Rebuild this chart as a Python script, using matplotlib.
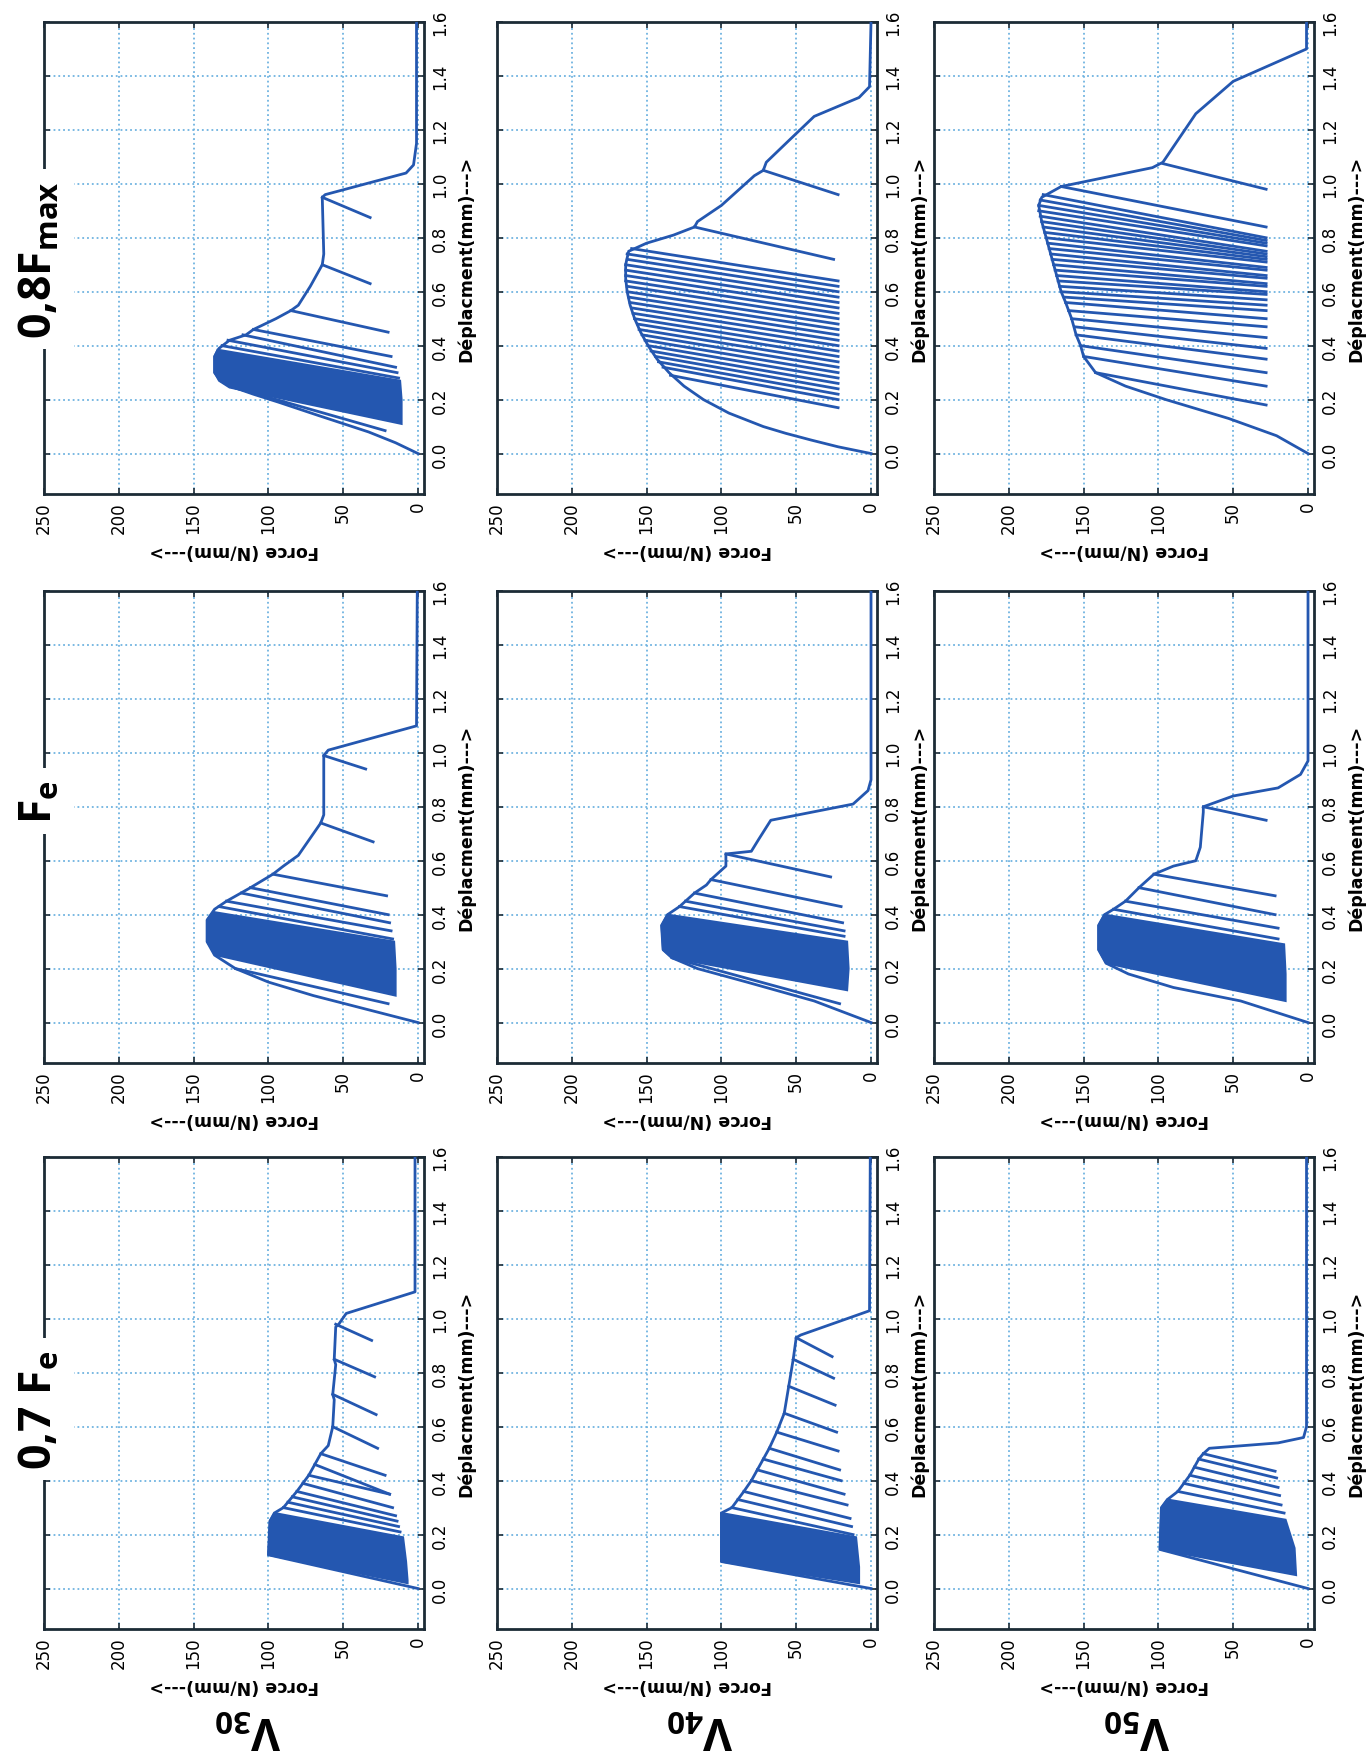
import numpy as np
import matplotlib.pyplot as plt

plt.rcParams['mathtext.fontset'] = 'custom'
plt.rcParams['mathtext.rm'] = 'Open Sans'
plt.rcParams['mathtext.bf'] = 'Open Sans:bold'

# values: displacement (mm) and force (N/mm)
# env = outer path, blk = saturated block of cycles, pk/tp = unloading teeth peak -> tip

# ---- row 0,8 Fmax ----
fmax_v30_env_d = [0, 0.04, 0.08, 0.14, 0.19, 0.22, 0.245, 0.27, 0.30, 0.36, 0.39, 0.42, 0.44, 0.46, 0.50, 0.53, 0.55, 0.62, 0.70, 0.74, 0.95, 0.96, 1.04, 1.07, 1.15, 1.60]
fmax_v30_env_f = [0, 15, 33, 66, 93, 110, 123, 132, 136, 136, 133, 126, 115, 110, 95, 85, 80, 72, 64, 63, 64, 62, 8, 3, 1, 1]
fmax_v30_blk_d = [0.11, 0.245, 0.27, 0.30, 0.36, 0.385, 0.27, 0.20]
fmax_v30_blk_f = [11, 126, 133, 136, 136, 134, 12, 11]
fmax_v30_pk_d = [0.245, 0.40, 0.42, 0.44, 0.46, 0.53, 0.70, 0.95]
fmax_v30_pk_f = [123, 131, 127, 117, 110, 85, 64, 64]
fmax_v30_tp_d = [0.085, 0.28, 0.30, 0.32, 0.36, 0.45, 0.63, 0.875]
fmax_v30_tp_f = [22, 13, 14, 15, 18, 20, 32, 32]

fmax_v40_env_d = [0, 0.025, 0.05, 0.075, 0.10, 0.15, 0.20, 0.25, 0.30, 0.35, 0.40, 0.45, 0.50, 0.55, 0.60, 0.65, 0.70, 0.75, 0.78, 0.81, 0.84, 0.86, 0.92, 0.98, 1.03, 1.05, 1.08, 1.16, 1.25, 1.32, 1.36, 1.60]
fmax_v40_env_f = [0, 22, 40, 57, 72, 95, 112, 125, 135, 143, 149, 154, 158, 161, 163, 164, 164, 162, 150, 132, 118, 116, 100, 88, 78, 72, 70, 55, 38, 8, 1, 0]
fmax_v40_blk_d = []
fmax_v40_blk_f = []
fmax_v40_pk_d = [0.29, 0.32, 0.34, 0.36, 0.38, 0.40, 0.42, 0.44, 0.46, 0.48, 0.50, 0.52, 0.54, 0.56, 0.58, 0.60, 0.62, 0.64, 0.66, 0.68, 0.70, 0.72, 0.74, 0.76, 0.84, 1.05]
fmax_v40_pk_f = [134, 139, 142, 144, 147, 149, 151, 153, 155, 156, 158, 159, 160, 161, 162, 163, 163, 164, 164, 164, 164, 163, 163, 160, 118, 72]
fmax_v40_tp_d = [0.17, 0.20, 0.22, 0.24, 0.26, 0.28, 0.30, 0.32, 0.34, 0.36, 0.38, 0.40, 0.42, 0.44, 0.46, 0.48, 0.50, 0.52, 0.54, 0.56, 0.58, 0.60, 0.62, 0.64, 0.72, 0.96]
fmax_v40_tp_f = [22, 22, 22, 22, 22, 22, 22, 22, 22, 22, 22, 22, 22, 22, 22, 22, 22, 22, 22, 22, 22, 22, 22, 22, 25, 22]

fmax_v50_env_d = [0, 0.066, 0.13, 0.20, 0.25, 0.30, 0.36, 0.40, 0.44, 0.50, 0.56, 0.60, 0.66, 0.70, 0.76, 0.80, 0.86, 0.92, 0.95, 0.99, 1.06, 1.08, 1.26, 1.38, 1.50, 1.60]
fmax_v50_env_f = [0, 21, 53, 95, 122, 142, 150, 152, 155, 158, 162, 165, 168, 170, 173, 175, 178, 180, 178, 165, 104, 97, 75, 50, 1, 1]
fmax_v50_blk_d = []
fmax_v50_blk_f = []
fmax_v50_pk_d = [0.30, 0.36, 0.40, 0.44, 0.47, 0.50, 0.53, 0.56, 0.58, 0.60, 0.62, 0.64, 0.66, 0.68, 0.70, 0.72, 0.74, 0.76, 0.78, 0.80, 0.82, 0.84, 0.86, 0.88, 0.90, 0.92, 0.94, 0.96, 0.99, 1.075]
fmax_v50_pk_f = [142, 150, 152, 155, 156, 158, 160, 162, 163, 165, 166, 167, 168, 169, 170, 171, 172, 173, 174, 175, 176, 177, 178, 179, 180, 180, 179, 177, 165, 97]
fmax_v50_tp_d = [0.18, 0.25, 0.30, 0.35, 0.39, 0.43, 0.47, 0.50, 0.53, 0.55, 0.57, 0.59, 0.60, 0.62, 0.63, 0.65, 0.66, 0.68, 0.69, 0.71, 0.72, 0.73, 0.74, 0.75, 0.77, 0.78, 0.79, 0.80, 0.84, 0.98]
fmax_v50_tp_f = [28, 28, 28, 28, 28, 28, 28, 28, 28, 28, 28, 28, 28, 28, 28, 28, 28, 28, 28, 28, 28, 28, 28, 28, 28, 28, 28, 28, 28, 28]

# ---- row Fe ----
fe_v30_env_d = [0, 0.05, 0.10, 0.15, 0.20, 0.25, 0.30, 0.38, 0.42, 0.45, 0.50, 0.55, 0.58, 0.62, 0.70, 0.74, 0.77, 0.99, 1.01, 1.10, 1.60]
fe_v30_env_f = [0, 35, 70, 100, 122, 136, 141, 141, 136, 128, 112, 97, 90, 80, 70, 65, 63, 63, 60, 1, 0.5]
fe_v30_blk_d = [0.10, 0.25, 0.30, 0.38, 0.41, 0.30, 0.20]
fe_v30_blk_f = [15, 135, 141, 141, 137, 16, 15]
fe_v30_pk_d = [0.20, 0.43, 0.45, 0.48, 0.50, 0.55, 0.74, 0.99]
fe_v30_pk_f = [122, 133, 128, 118, 112, 97, 65, 63]
fe_v30_tp_d = [0.07, 0.31, 0.34, 0.37, 0.40, 0.47, 0.67, 0.94]
fe_v30_tp_f = [20, 17, 18, 19, 20, 21, 30, 35]

fe_v40_env_d = [0, 0.08, 0.15, 0.20, 0.24, 0.27, 0.36, 0.40, 0.43, 0.45, 0.48, 0.51, 0.53, 0.58, 0.625, 0.635, 0.68, 0.75, 0.81, 0.86, 0.90, 1.60]
fe_v40_env_f = [0, 38, 83, 116, 133, 139, 140, 136, 128, 124, 118, 110, 107, 97, 97, 80, 75, 67, 12, 2, 0, 0]
fe_v40_blk_d = [0.12, 0.24, 0.27, 0.36, 0.40, 0.30, 0.20]
fe_v40_blk_f = [16, 133, 139, 140, 136, 16, 15]
fe_v40_pk_d = [0.24, 0.43, 0.45, 0.48, 0.53, 0.625]
fe_v40_pk_f = [133, 128, 124, 118, 107, 97]
fe_v40_tp_d = [0.07, 0.32, 0.34, 0.37, 0.43, 0.54]
fe_v40_tp_f = [21, 18, 18, 19, 20, 27]

fe_v50_env_d = [0, 0.08, 0.13, 0.18, 0.22, 0.27, 0.36, 0.40, 0.42, 0.45, 0.50, 0.55, 0.58, 0.60, 0.65, 0.78, 0.80, 0.84, 0.87, 0.92, 0.97, 1.60]
fe_v50_env_f = [0, 45, 90, 120, 135, 140, 140, 136, 130, 122, 113, 103, 90, 75, 72, 70, 70, 50, 20, 5, 0, 0]
fe_v50_blk_d = [0.08, 0.22, 0.27, 0.36, 0.40, 0.29, 0.18]
fe_v50_blk_f = [15, 135, 140, 140, 136, 16, 15]
fe_v50_pk_d = [0.42, 0.45, 0.50, 0.55, 0.80]
fe_v50_pk_f = [130, 122, 113, 103, 70]
fe_v50_tp_d = [0.31, 0.35, 0.40, 0.47, 0.75]
fe_v50_tp_f = [20, 20, 22, 22, 28]

# ---- row 0,7 Fe ----
fe07_v30_env_d = [0, 0.125, 0.25, 0.28, 0.30, 0.32, 0.34, 0.36, 0.39, 0.42, 0.46, 0.50, 0.53, 0.60, 0.70, 0.72, 0.83, 0.85, 0.97, 0.98, 1.02, 1.10, 1.60]
fe07_v30_env_f = [0, 100, 99, 96, 90, 87, 84, 81, 77, 73, 69, 65, 60, 57, 56, 57, 55, 56, 55, 53, 48, 2, 2]
fe07_v30_blk_d = [0.02, 0.125, 0.25, 0.28, 0.19, 0.10, 0.03]
fe07_v30_blk_f = [7, 100, 99, 96, 10, 8, 7]
fe07_v30_pk_d = [0.30, 0.32, 0.34, 0.36, 0.39, 0.42, 0.46, 0.50, 0.60, 0.72, 0.85, 0.98]
fe07_v30_pk_f = [90, 87, 84, 81, 77, 73, 69, 65, 57, 57, 56, 55]
fe07_v30_tp_d = [0.21, 0.23, 0.25, 0.27, 0.30, 0.35, 0.35, 0.42, 0.52, 0.645, 0.785, 0.92]
fe07_v30_tp_f = [12, 13, 14, 15, 17, 19, 19, 22, 27, 28, 29, 31]

fe07_v40_env_d = [0, 0.10, 0.28, 0.30, 0.33, 0.36, 0.40, 0.44, 0.48, 0.52, 0.58, 0.65, 0.75, 0.85, 0.93, 0.94, 1.03, 1.60]
fe07_v40_env_f = [0, 100, 100, 93, 89, 85, 80, 76, 72, 68, 63, 58, 55, 52, 50, 47, 1, 0.5]
fe07_v40_blk_d = [0.02, 0.10, 0.28, 0.19, 0.08]
fe07_v40_blk_f = [8, 100, 100, 10, 8]
fe07_v40_pk_d = [0.30, 0.33, 0.36, 0.40, 0.44, 0.48, 0.52, 0.58, 0.65, 0.75, 0.85, 0.93]
fe07_v40_pk_f = [93, 89, 85, 80, 76, 72, 68, 63, 58, 55, 52, 50]
fe07_v40_tp_d = [0.20, 0.23, 0.26, 0.31, 0.35, 0.40, 0.44, 0.51, 0.58, 0.68, 0.78, 0.86]
fe07_v40_tp_f = [12, 13, 14, 16, 18, 20, 21, 22, 23, 24, 25, 26]

fe07_v50_env_d = [0, 0.145, 0.30, 0.33, 0.36, 0.39, 0.42, 0.45, 0.48, 0.50, 0.52, 0.54, 0.56, 0.60, 1.60]
fe07_v50_env_f = [0, 99, 98, 94, 87, 83, 79, 76, 73, 70, 66, 20, 3, 1, 1]
fe07_v50_blk_d = [0.05, 0.145, 0.30, 0.33, 0.255, 0.15]
fe07_v50_blk_f = [8, 99, 98, 94, 15, 9]
fe07_v50_pk_d = [0.36, 0.39, 0.42, 0.45, 0.48, 0.50]
fe07_v50_pk_f = [87, 83, 79, 76, 73, 70]
fe07_v50_tp_d = [0.28, 0.31, 0.345, 0.375, 0.41, 0.435]
fe07_v50_tp_f = [16, 18, 19, 20, 21, 22]

row_titles = ['0,8F$_{\\mathbf{max}}$', 'F$_{\\mathbf{e}}$', '0,7 F$_{\\mathbf{e}}$']
col_titles = ['V$_{\\mathbf{30}}$', 'V$_{\\mathbf{40}}$', 'V$_{\\mathbf{50}}$']
force_ticks = [0, 50, 100, 150, 200, 250]
disp_ticks = [0.0, 0.2, 0.4, 0.6, 0.8, 1.0, 1.2, 1.4, 1.6]

panels = [
    [(fmax_v30_env_d, fmax_v30_env_f, fmax_v30_blk_d, fmax_v30_blk_f, fmax_v30_pk_d, fmax_v30_pk_f, fmax_v30_tp_d, fmax_v30_tp_f),
     (fmax_v40_env_d, fmax_v40_env_f, fmax_v40_blk_d, fmax_v40_blk_f, fmax_v40_pk_d, fmax_v40_pk_f, fmax_v40_tp_d, fmax_v40_tp_f),
     (fmax_v50_env_d, fmax_v50_env_f, fmax_v50_blk_d, fmax_v50_blk_f, fmax_v50_pk_d, fmax_v50_pk_f, fmax_v50_tp_d, fmax_v50_tp_f)],
    [(fe_v30_env_d, fe_v30_env_f, fe_v30_blk_d, fe_v30_blk_f, fe_v30_pk_d, fe_v30_pk_f, fe_v30_tp_d, fe_v30_tp_f),
     (fe_v40_env_d, fe_v40_env_f, fe_v40_blk_d, fe_v40_blk_f, fe_v40_pk_d, fe_v40_pk_f, fe_v40_tp_d, fe_v40_tp_f),
     (fe_v50_env_d, fe_v50_env_f, fe_v50_blk_d, fe_v50_blk_f, fe_v50_pk_d, fe_v50_pk_f, fe_v50_tp_d, fe_v50_tp_f)],
    [(fe07_v30_env_d, fe07_v30_env_f, fe07_v30_blk_d, fe07_v30_blk_f, fe07_v30_pk_d, fe07_v30_pk_f, fe07_v30_tp_d, fe07_v30_tp_f),
     (fe07_v40_env_d, fe07_v40_env_f, fe07_v40_blk_d, fe07_v40_blk_f, fe07_v40_pk_d, fe07_v40_pk_f, fe07_v40_tp_d, fe07_v40_tp_f),
     (fe07_v50_env_d, fe07_v50_env_f, fe07_v50_blk_d, fe07_v50_blk_f, fe07_v50_pk_d, fe07_v50_pk_f, fe07_v50_tp_d, fe07_v50_tp_f)],
]

W, H = 1366, 1758
col_left = [44, 497, 934]
row_top = [23, 592, 1158]
ax_w, ax_h = 380, 472
blue = '#2457b0'
dark = '#1c2b36'

fig = plt.figure(figsize=(W / 100, H / 100), dpi=100)

for r in range(3):
    for c in range(3):
        env_d, env_f, blk_d, blk_f, pk_d, pk_f, tp_d, tp_f = panels[r][c]
        ax = fig.add_axes([col_left[c] / W, 1 - (row_top[r] + ax_h) / H, ax_w / W, ax_h / H])
        # the plot is turned a quarter: force runs right->left, displacement bottom->top
        if blk_d:
            ax.fill(blk_f, blk_d, color=blue, lw=1.5, zorder=3)
        ax.plot(env_f, env_d, color=blue, lw=2, zorder=3)
        for a, b, cc, d in zip(pk_f, pk_d, tp_f, tp_d):
            ax.plot([a, cc], [b, d], color=blue, lw=2, zorder=3)
        ax.set_xlim(250, -4)
        ax.set_ylim(-0.15, 1.6)
        ax.set_xticks(force_ticks)
        ax.set_xticklabels([str(v) for v in force_ticks])
        ax.set_yticks(disp_ticks)
        ax.set_yticklabels(['%.1f' % v for v in disp_ticks])
        ax.yaxis.tick_right()
        ax.yaxis.set_label_position('right')
        ax.tick_params(direction='in', length=4, width=1.2, color=dark, labelsize=12,
                       top=True, bottom=True, left=True, right=True,
                       labelleft=False, labelright=True, labeltop=False, labelbottom=True)
        ax.tick_params(axis='x', labelrotation=90, pad=5)
        ax.tick_params(axis='y', labelrotation=90, pad=5)
        plt.setp(ax.get_yticklabels(), va='center')
        ax.grid(True, linestyle=':', color='#6fb3e0', linewidth=1.3)
        ax.set_axisbelow(True)
        for s in ax.spines.values():
            s.set_color(dark)
            s.set_linewidth(2)
        ax.set_xlabel('Force (N/mm)--->', rotation=180, fontweight='bold', fontsize=12.5, labelpad=6)
        ax.set_ylabel('Déplacment(mm)--->', rotation=90, fontweight='bold', fontsize=12.5, labelpad=6)

row_y = [260, 802, 1410]
for t, y in zip(row_titles, row_y):
    fig.text(40 / W, 1 - y / H, t, rotation=90, ha='center', va='center', fontsize=32,
             fontweight='bold', family='Open Sans',
             bbox=dict(boxstyle='square,pad=0.25', fc='white', ec='none'))

col_x = [248, 700, 1137]
for t, x in zip(col_titles, col_x):
    fig.text(x / W, 1 - 1728 / H, t, rotation=180, ha='center', va='center', fontsize=32,
             fontweight='bold', family='Open Sans')

fig.savefig('out.png', dpi=100, facecolor='white')
